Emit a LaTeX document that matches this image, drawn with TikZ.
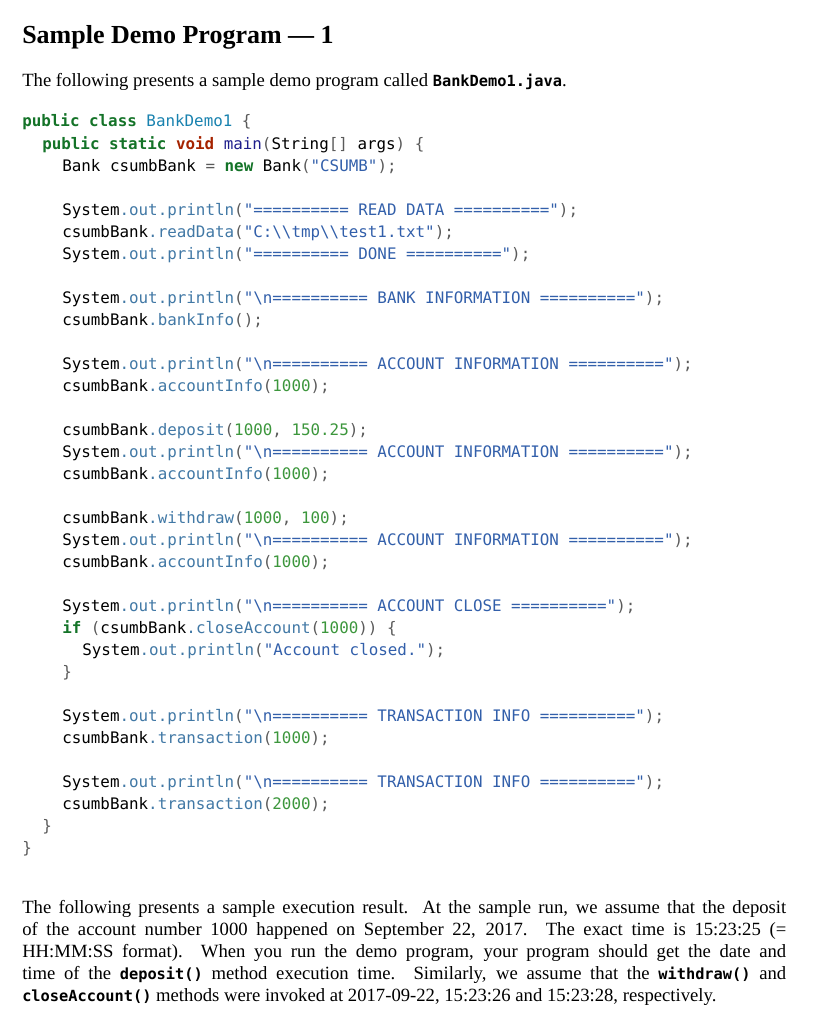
\documentclass[tikz,border=0pt]{standalone}
\usepackage{fontspec}
\setmainfont{Liberation Serif}
\setmonofont{DejaVu Sans Mono}[Scale=1]
\definecolor{kw}{RGB}{20,115,40}
\definecolor{cls}{RGB}{25,130,175}
\definecolor{vd}{RGB}{165,35,0}
\definecolor{fn}{RGB}{30,30,140}
\definecolor{st}{RGB}{50,95,170}
\definecolor{me}{RGB}{65,120,165}
\definecolor{nu}{RGB}{60,150,60}
\definecolor{pu}{RGB}{90,90,90}
\newcommand{\Kw}[1]{\textcolor{kw}{\bfseries #1}}
\newcommand{\Cl}[1]{\textcolor{cls}{#1}}
\newcommand{\Vd}[1]{\textcolor{vd}{\bfseries #1}}
\newcommand{\Fn}[1]{\textcolor{fn}{#1}}
\newcommand{\St}[1]{\textcolor{st}{#1}}
\newcommand{\Me}[1]{\textcolor{me}{#1}}
\newcommand{\Nu}[1]{\textcolor{nu}{#1}}
\newcommand{\Pu}[1]{\textcolor{pu}{#1}}
\newcommand{\Out}{System\Me{.out.println}\Pu{(}}
\newcommand{\Ic}[1]{{\fontsize{11.5pt}{12pt}\ttfamily\bfseries #1}}
\tikzset{
 code/.style={anchor=base west,inner sep=0pt,font=\fontsize{11.9pt}{14pt}\ttfamily},
 prose/.style={anchor=base west,inner sep=0pt,font=\fontsize{14pt}{16.5pt}\selectfont},
}
\begin{document}
\begin{tikzpicture}[x=0.75pt,y=-0.75pt]
\useasboundingbox (0,0) rectangle (837,1024);
\node[anchor=base west,inner sep=0pt,font=\fontsize{19.5pt}{20pt}\selectfont\bfseries] (title) at (22,44) {Sample Demo Program --- 1};
\node[prose] (intro) at (22,86) {The following presents a sample demo program called \Ic{BankDemo1.java}.};
\node[code] (l1) at (22,127) {\Kw{public class} \Cl{BankDemo1} \Pu{\{}};
\node[code] (l2) at (42,149) {\Kw{public static} \Vd{void} \Fn{main}\Pu{(}String\Pu{[]} args\Pu{)} \Pu{\{}};
\node[code] (l3) at (62,171) {Bank csumbBank \Pu{=} \Kw{new} Bank\Pu{(}\St{"CSUMB"}\Pu{);}};
\node[code] (l4) at (62,215) {\Out\St{"========== READ DATA =========="}\Pu{);}};
\node[code] (l5) at (62,237) {csumbBank\Me{.readData}\Pu{(}\St{"C:\textbackslash\textbackslash tmp\textbackslash\textbackslash test1.txt"}\Pu{);}};
\node[code] (l6) at (62,259) {\Out\St{"========== DONE =========="}\Pu{);}};
\node[code] (l7) at (62,303) {\Out\St{"\textbackslash n========== BANK INFORMATION =========="}\Pu{);}};
\node[code] (l8) at (62,325) {csumbBank\Me{.bankInfo}\Pu{();}};
\node[code] (l9) at (62,369) {\Out\St{"\textbackslash n========== ACCOUNT INFORMATION =========="}\Pu{);}};
\node[code] (l10) at (62,391) {csumbBank\Me{.accountInfo}\Pu{(}\Nu{1000}\Pu{);}};
\node[code] (l11) at (62,435) {csumbBank\Me{.deposit}\Pu{(}\Nu{1000}\Pu{,} \Nu{150.25}\Pu{);}};
\node[code] (l12) at (62,457) {\Out\St{"\textbackslash n========== ACCOUNT INFORMATION =========="}\Pu{);}};
\node[code] (l13) at (62,479) {csumbBank\Me{.accountInfo}\Pu{(}\Nu{1000}\Pu{);}};
\node[code] (l14) at (62,523) {csumbBank\Me{.withdraw}\Pu{(}\Nu{1000}\Pu{,} \Nu{100}\Pu{);}};
\node[code] (l15) at (62,545) {\Out\St{"\textbackslash n========== ACCOUNT INFORMATION =========="}\Pu{);}};
\node[code] (l16) at (62,567) {csumbBank\Me{.accountInfo}\Pu{(}\Nu{1000}\Pu{);}};
\node[code] (l17) at (62,611) {\Out\St{"\textbackslash n========== ACCOUNT CLOSE =========="}\Pu{);}};
\node[code] (l18) at (62,633) {\Kw{if} \Pu{(}csumbBank\Me{.closeAccount}\Pu{(}\Nu{1000}\Pu{))} \Pu{\{}};
\node[code] (l19) at (82,655) {\Out\St{"Account closed."}\Pu{);}};
\node[code] (l20) at (62,677) {\Pu{\}}};
\node[code] (l21) at (62,721) {\Out\St{"\textbackslash n========== TRANSACTION INFO =========="}\Pu{);}};
\node[code] (l22) at (62,743) {csumbBank\Me{.transaction}\Pu{(}\Nu{1000}\Pu{);}};
\node[code] (l23) at (62,787) {\Out\St{"\textbackslash n========== TRANSACTION INFO =========="}\Pu{);}};
\node[code] (l24) at (62,809) {csumbBank\Me{.transaction}\Pu{(}\Nu{2000}\Pu{);}};
\node[code] (l25) at (42,831) {\Pu{\}}};
\node[code] (l26) at (22,853) {\Pu{\}}};
\node[anchor=north west,inner sep=0pt,font=\fontsize{14pt}{16.5pt}\selectfont] (para) at (22,900) {\parbox[t]{573pt}{The following presents a sample execution result. At the sample run, we assume that the deposit\linebreak{} of the account number 1000 happened on September 22, 2017. The exact time is 15:23:25 (=\linebreak{} HH:MM:SS format). When you run the demo program, your program should get the date and\linebreak{} time of the \Ic{deposit()} method execution time. Similarly, we assume that the \Ic{withdraw()} and\linebreak{} \Ic{closeAccount()} methods were invoked at 2017-09-22, 15:23:26 and 15:23:28, respectively.}};
\end{tikzpicture}
\end{document}
